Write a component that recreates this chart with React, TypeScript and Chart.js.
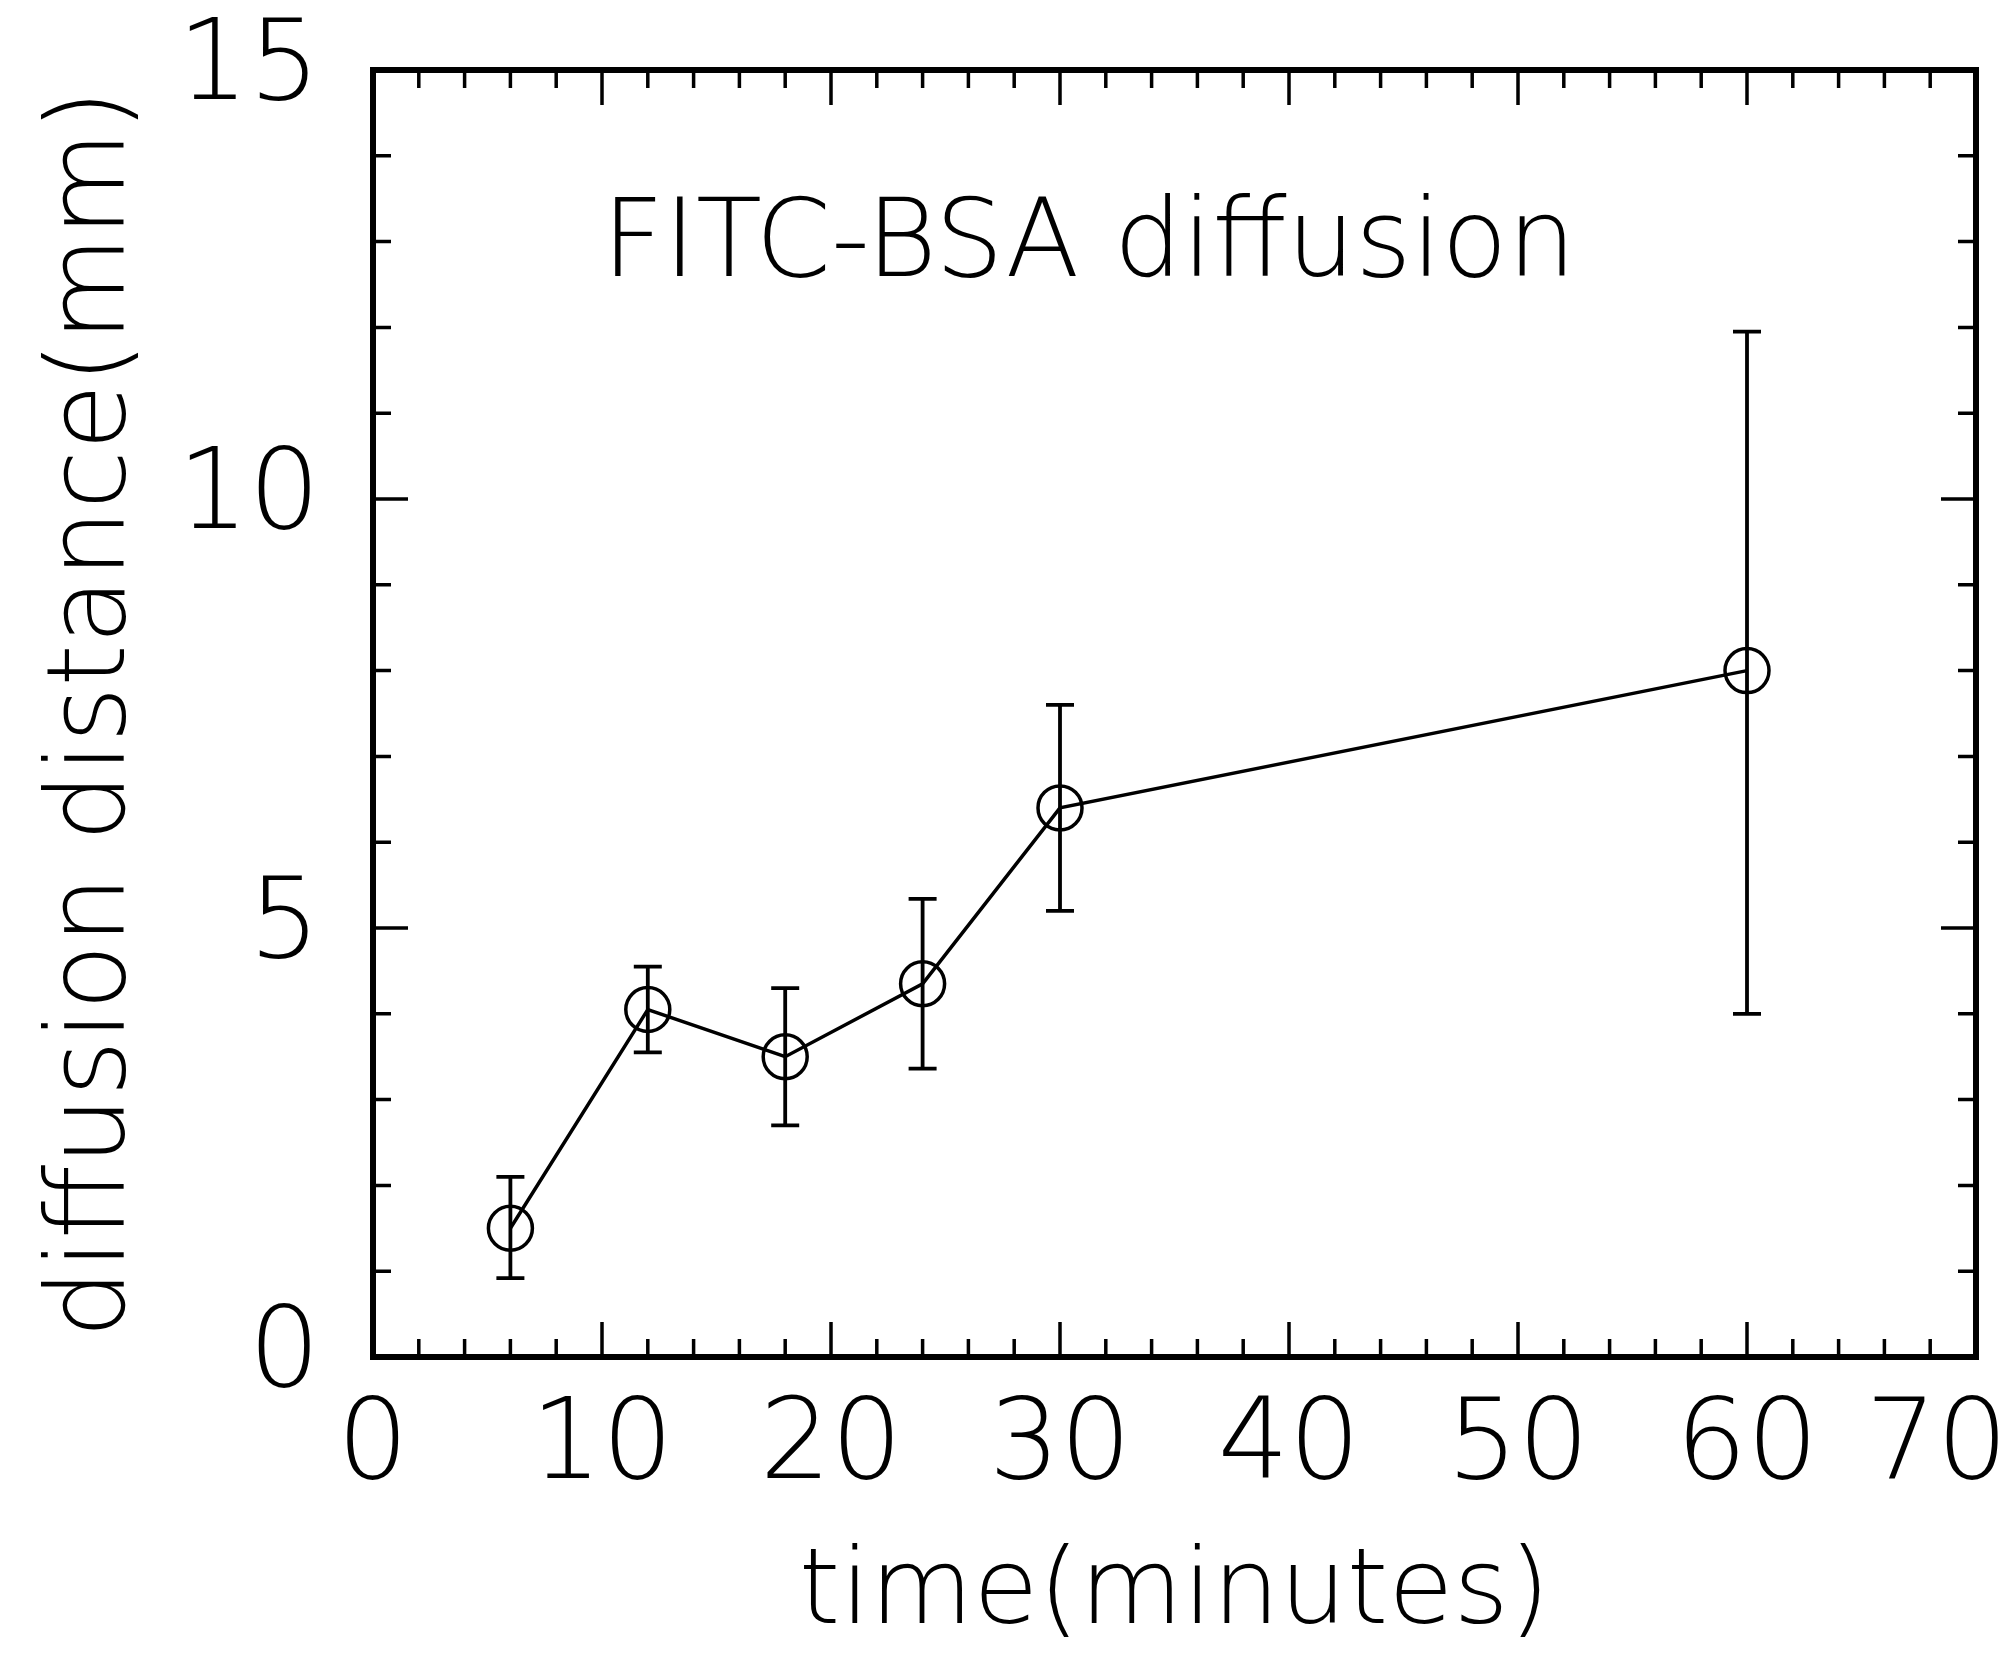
import React, { useEffect, useRef } from "react";
import { Chart, registerables } from "chart.js";
Chart.register(...registerables);

// ---- data ----
const times = [6, 12, 18, 24, 30, 60];
const distances = [1.5, 4.05, 3.5, 4.35, 6.4, 8.0];
const errLow = [0.92, 3.55, 2.7, 3.36, 5.2, 4.0];
const errHigh = [2.1, 4.55, 4.3, 5.34, 7.6, 11.95];

const xMin = 0, xMax = 70, xMajor = 10, xMinor = 2;
const yMin = 0, yMax = 15, yMajor = 5, yMinor = 1;

const chartTitle = "FITC-BSA diffusion";
const titlePos = { x: 10, y: 12.6 };
const xTitle = "time(minutes)";
const yTitle = "diffusion distance(mm)";

const FONT = "'DejaVu Sans', sans-serif";

const W = 2010, H = 1678;
const AREA = { left: 373, right: 1976, top: 70, bottom: 1357 };

const framePlugin = {
  id: "framePlugin",
  afterDatasetsDraw(chart: any) {
    const { ctx, chartArea: a, scales } = chart;
    const xs = scales.x, ys = scales.y;
    ctx.save();
    ctx.strokeStyle = "#000";
    ctx.lineCap = "butt";
    // error bars
    ctx.lineWidth = 3.8;
    times.forEach((t, i) => {
      const px = xs.getPixelForValue(t);
      const lo = ys.getPixelForValue(errLow[i]);
      const hi = ys.getPixelForValue(errHigh[i]);
      const cap = 14;
      ctx.beginPath();
      ctx.moveTo(px, lo); ctx.lineTo(px, hi);
      ctx.moveTo(px - cap, lo); ctx.lineTo(px + cap, lo);
      ctx.moveTo(px - cap, hi); ctx.lineTo(px + cap, hi);
      ctx.stroke();
    });
    // ticks
    ctx.lineWidth = 3.5;
    ctx.beginPath();
    for (let v = xMin; v <= xMax + 1e-9; v += xMinor) {
      const px = xs.getPixelForValue(v);
      const len = Math.abs(v % xMajor) < 1e-9 ? 35 : 18;
      ctx.moveTo(px, a.bottom); ctx.lineTo(px, a.bottom - len);
      ctx.moveTo(px, a.top); ctx.lineTo(px, a.top + len);
    }
    for (let v = yMin; v <= yMax + 1e-9; v += yMinor) {
      const py = ys.getPixelForValue(v);
      const len = Math.abs(v % yMajor) < 1e-9 ? 35 : 18;
      ctx.moveTo(a.left, py); ctx.lineTo(a.left + len, py);
      ctx.moveTo(a.right, py); ctx.lineTo(a.right - len, py);
    }
    ctx.stroke();
    // frame
    ctx.lineWidth = 6;
    ctx.lineJoin = "miter";
    ctx.strokeRect(a.left, a.top, a.right - a.left, a.bottom - a.top);
    // title inside plot
    ctx.fillStyle = "#000";
    ctx.font = `200 108px ${FONT}`;
    ctx.textAlign = "left";
    ctx.textBaseline = "alphabetic";
    ctx.fillText(chartTitle, xs.getPixelForValue(titlePos.x), ys.getPixelForValue(titlePos.y));
    ctx.restore();
  },
};

export default function App() {
  const ref = useRef<HTMLCanvasElement>(null);
  useEffect(() => {
    document.body.style.margin = "0";
    const canvas = ref.current!;
    const chart = new Chart(canvas, {
      type: "line",
      data: {
        datasets: [
          {
            data: times.map((t, i) => ({ x: t, y: distances[i] })),
            borderColor: "#000",
            borderWidth: 3.5,
            pointRadius: 22,
            pointHoverRadius: 22,
            pointBorderWidth: 3.5,
            pointBorderColor: "#000",
            pointBackgroundColor: "rgba(0,0,0,0)",
            fill: false,
            tension: 0,
          },
        ],
      },
      options: {
        animation: false,
        responsive: false,
        devicePixelRatio: 1,
        events: [],
        layout: { padding: { left: 0, right: W - AREA.right, top: AREA.top, bottom: 0 } },
        plugins: { legend: { display: false }, tooltip: { enabled: false }, title: { display: false } },
        scales: {
          x: {
            type: "linear",
            min: xMin,
            max: xMax,
            grid: { display: false, drawTicks: false },
            border: { display: false },
            ticks: {
              stepSize: xMajor,
              color: "#000",
              font: { family: FONT, size: 112, weight: "200" as any },
              padding: 25,
              maxRotation: 0,
              autoSkip: false,
              callback: (v: any) => (v === xMax ? String(v) + "\u2002\u2009" : String(v)),
            },
            title: {
              display: true,
              text: xTitle,
              color: "#000",
              font: { family: FONT, size: 106, weight: "200" as any },
              padding: { top: 0, bottom: 19 },
            },
            afterFit(scale: any) {
              scale.height = H - AREA.bottom;
              scale.paddingLeft = 0;
              scale.paddingRight = 0;
            },
          },
          y: {
            type: "linear",
            min: yMin,
            max: yMax,
            grid: { display: false, drawTicks: false },
            border: { display: false },
            ticks: {
              stepSize: yMajor,
              color: "#000",
              font: { family: FONT, size: 112, weight: "200" as any },
              padding: 53,
            },
            title: {
              display: true,
              text: yTitle,
              color: "#000",
              font: { family: FONT, size: 108, weight: "200" as any },
              padding: { top: 31, bottom: 0 },
            },
            afterFit(scale: any) {
              scale.width = AREA.left;
              scale.paddingTop = 0;
              scale.paddingBottom = 0;
            },
          },
        },
      },
      plugins: [framePlugin],
    } as any);
    return () => chart.destroy();
  }, []);
  return <canvas ref={ref} width={W} height={H} style={{ display: "block", width: W, height: H }} />;
}
